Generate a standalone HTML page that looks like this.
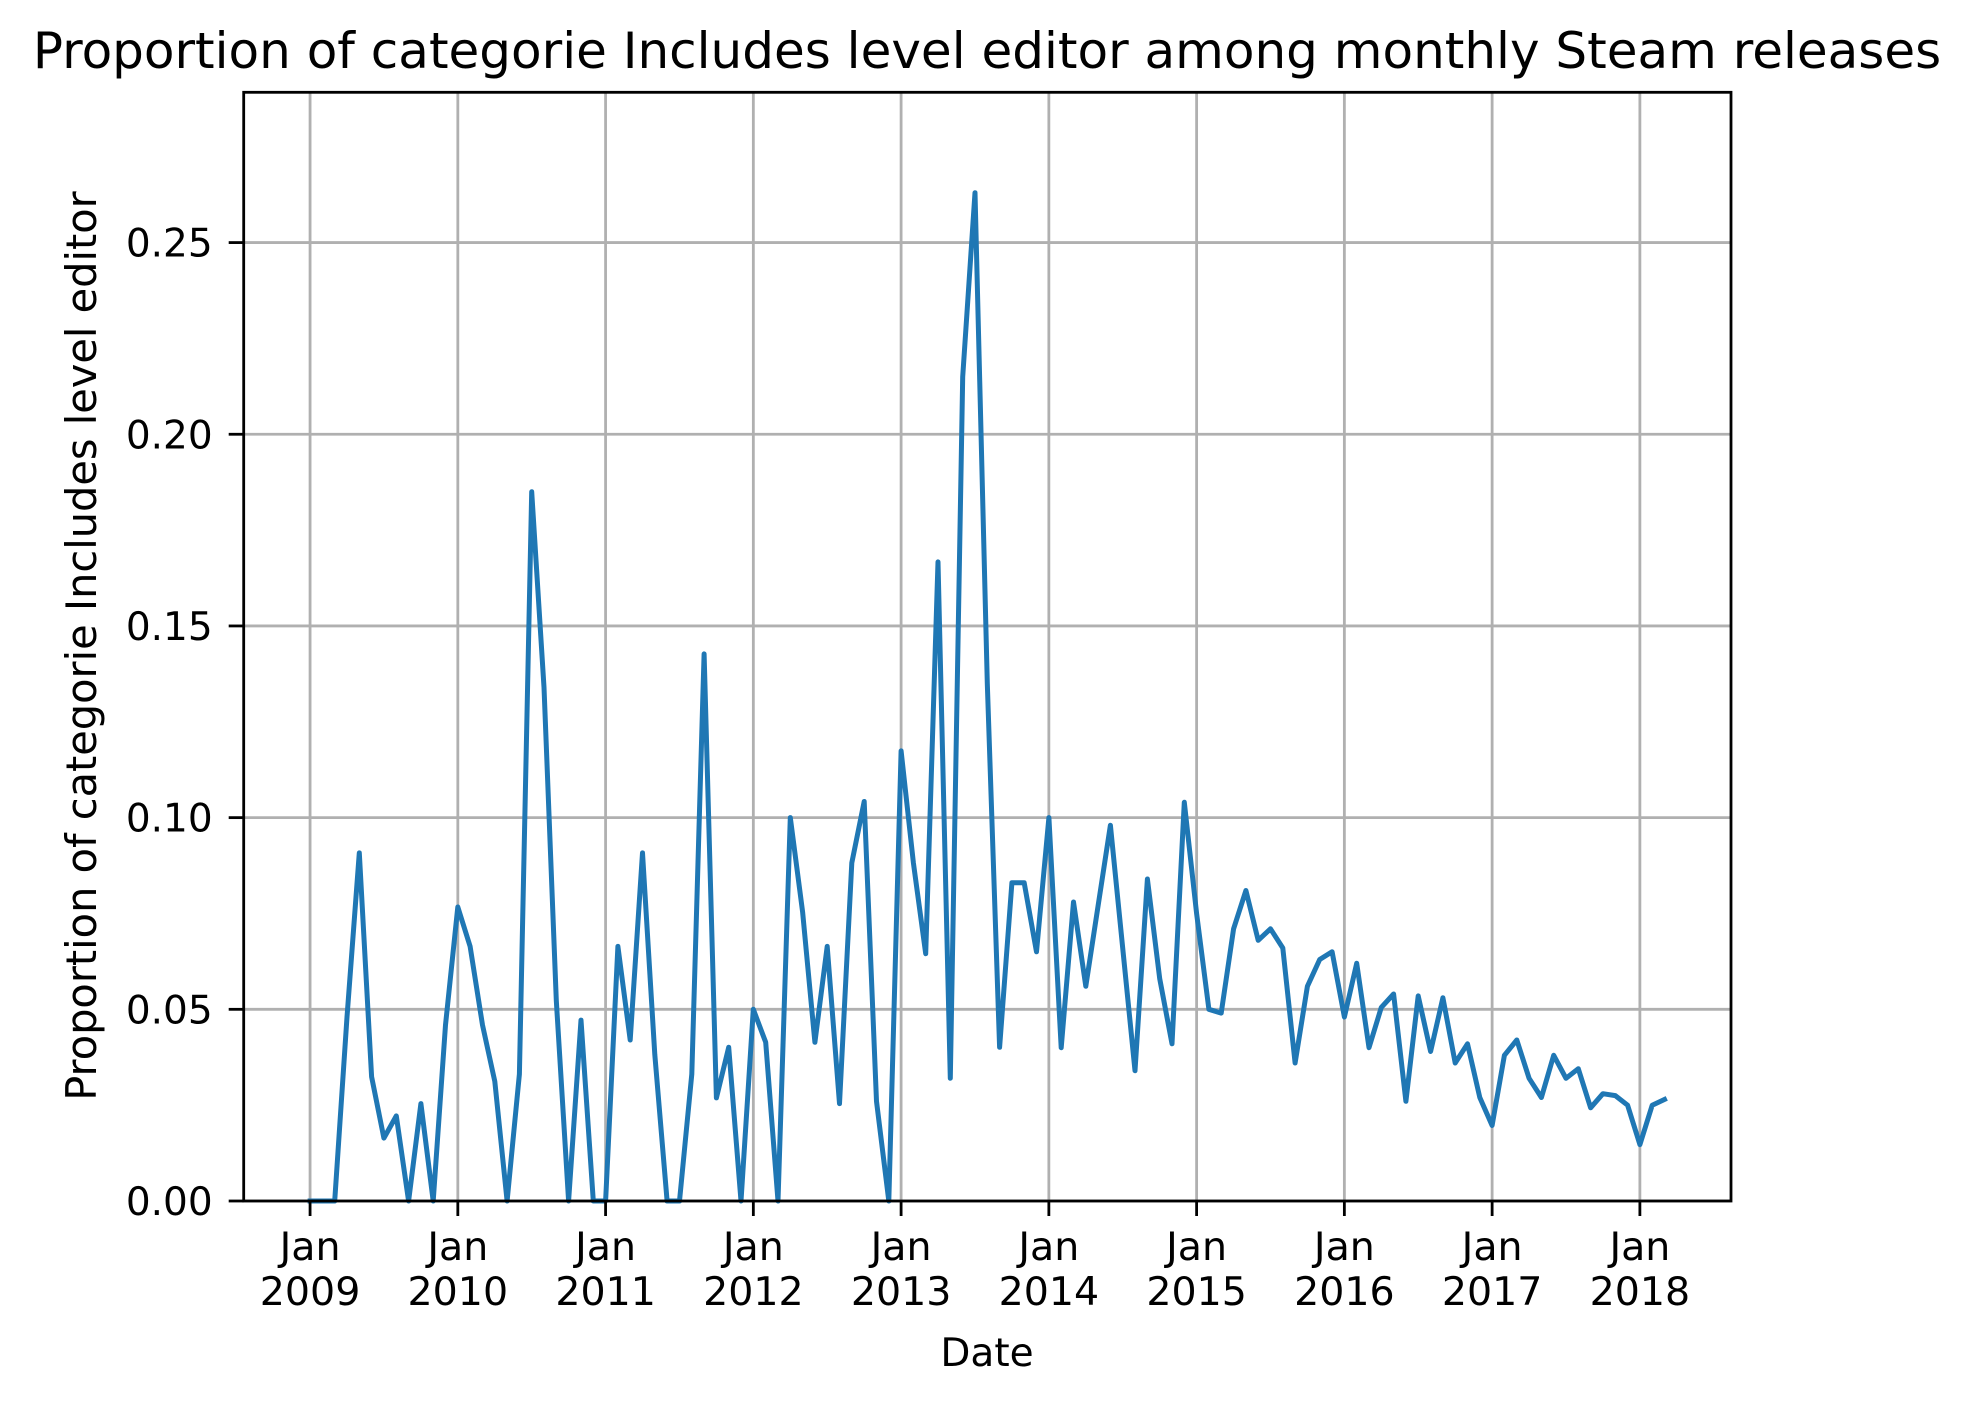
<!DOCTYPE html>
<html><head><meta charset="utf-8"><style>
html,body{margin:0;padding:0;background:#fff;}
svg{display:block;font-family:"DejaVu Sans","Liberation Sans",sans-serif;}
</style></head><body>
<svg id="chart" width="1973" height="1403" viewBox="0 0 1973 1403" xmlns="http://www.w3.org/2000/svg">
<rect width="1973" height="1403" fill="#fff"/>
<text x="987" y="68" font-size="50" text-anchor="middle">Proportion of categorie Includes level editor among monthly Steam releases</text>
<g id="grid"></g><g id="series"></g><g id="axes"></g>
<text x="987" y="1366" font-size="39" text-anchor="middle">Date</text>
<text x="0" y="0" font-size="41.5" text-anchor="middle" transform="translate(96,646) rotate(-90)">Proportion of categorie Includes level editor</text>
</svg>
<script>
const startYear = 2009;
const values = [0,0,0,0.048,0.0908,0.0324,0.0164,0.0222,0,0.0254,0,0.0459,
0.0767,0.0664,0.0459,0.0312,0,0.0331,0.185,0.134,0.0523,0,0.0472,0,
0,0.0664,0.042,0.0908,0.0382,0,0,0.0331,0.1427,0.0269,0.0401,0,
0.05,0.0414,0,0.1,0.0754,0.0414,0.0664,0.0254,0.0882,0.1042,0.026,0,
0.1174,0.0882,0.0645,0.1667,0.032,0.215,0.263,0.135,0.0401,0.083,0.083,0.065,
0.1,0.04,0.078,0.056,0.077,0.098,0.066,0.034,0.084,0.058,0.041,0.104,
0.075,0.05,0.049,0.071,0.081,0.068,0.071,0.066,0.036,0.056,0.063,0.065,
0.048,0.062,0.04,0.0505,0.054,0.026,0.0535,0.039,0.053,0.036,0.041,0.027,
0.0197,0.038,0.042,0.032,0.027,0.038,0.032,0.0345,0.0243,0.028,0.0275,0.025,
0.0147,0.025,0.0265];
const yTicks = [0,0.05,0.10,0.15,0.20,0.25];
const yTickLabels = ["0.00","0.05","0.10","0.15","0.20","0.25"];
const xTickYears = [2009,2010,2011,2012,2013,2014,2015,2016,2017,2018];

const L=243.7,R=1731,T=92.3,B=1201;
const yMax=0.2892, mMin=-5.39, mMax=115.4;
const sx=m=>L+(m-mMin)/(mMax-mMin)*(R-L);
const sy=v=>B-v/yMax*(B-T);
const NS="http://www.w3.org/2000/svg";
function mk(tag,attrs,parent){const e=document.createElementNS(NS,tag);for(const k in attrs)e.setAttribute(k,attrs[k]);parent.appendChild(e);return e;}
const grid=document.getElementById('grid'),axes=document.getElementById('axes'),series=document.getElementById('series');

yTicks.forEach((v,i)=>{
  const y=sy(v);
  const g=mk('line',{x1:L,x2:R,y1:y,y2:y,stroke:'#b0b0b0','stroke-width':2.8},grid);
  
  
  const t=mk('line',{x1:L-15,x2:L,y1:y,y2:y,stroke:'#000','stroke-width':2.8},axes);
  
  
  const tx=mk('text',{x:L-31,y:y+14,'font-size':39,'text-anchor':'end'},axes);
  tx.textContent=yTickLabels[i];
  
  
});
xTickYears.forEach(yr=>{
  const x=sx((yr-startYear)*12);
  const g=mk('line',{x1:x,x2:x,y1:T,y2:B,stroke:'#b0b0b0','stroke-width':2.8},grid);
  
  
  const t=mk('line',{x1:x,x2:x,y1:B,y2:B+15,stroke:'#000','stroke-width':2.8},axes);
  
  
  const tx=mk('text',{x:x,y:1260,'font-size':39.5,'text-anchor':'middle'},axes);
  
  
  const s1=mk('tspan',{x:x,dy:0},tx);s1.textContent='Jan';
  const s2=mk('tspan',{x:x,dy:45},tx);s2.textContent=String(yr);
});
const frame=mk('rect',{x:L,y:T,width:R-L,height:B-T,fill:'none',stroke:'#000','stroke-width':2.8},axes);



const pts=values.map((v,i)=>sx(i).toFixed(1)+','+sy(v).toFixed(1)).join(' ');
const line=mk('polyline',{points:pts,fill:'none',stroke:'#1f77b4','stroke-width':5,'stroke-linejoin':'round','stroke-linecap':'square'},series);


</script>
</body></html>
